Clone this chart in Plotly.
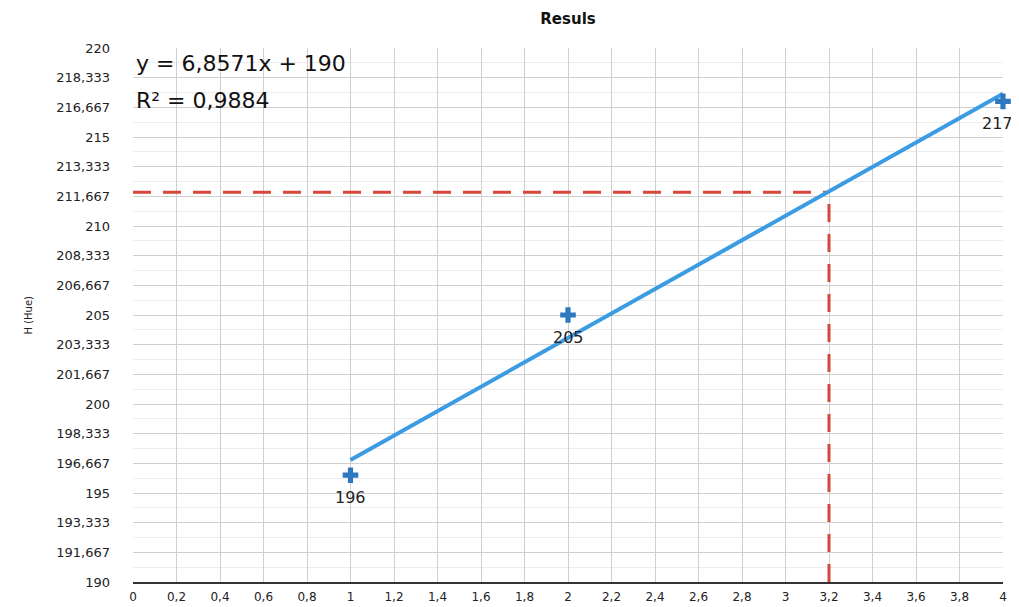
import plotly.graph_objects as go

# Data
x_vals = [1, 2, 4]
hue_vals = [196, 205, 217]
point_labels = ["196", "205", "217"]
trend_x = [1, 4]
trend_y = [196.857, 217.428]
target_x = 3.2
target_hue = 211.9
y_tickvals = [190, 191.667, 193.333, 195, 196.667, 198.333, 200, 201.667, 203.333,
              205, 206.667, 208.333, 210, 211.667, 213.333, 215, 216.667, 218.333, 220]
y_ticktext = ["190", "191,667", "193,333", "195", "196,667", "198,333", "200", "201,667",
              "203,333", "205", "206,667", "208,333", "210", "211,667", "213,333", "215",
              "216,667", "218,333", "220"]
y_minor_vals = [190.833, 192.5, 194.167, 195.833, 197.5, 199.167, 200.833, 202.5,
                204.167, 205.833, 207.5, 209.167, 210.833, 212.5, 214.167, 215.833,
                217.5, 219.167]
x_tickvals = [0, 0.2, 0.4, 0.6, 0.8, 1, 1.2, 1.4, 1.6, 1.8, 2, 2.2, 2.4, 2.6, 2.8, 3,
              3.2, 3.4, 3.6, 3.8, 4]
x_ticktext = ["0", "0,2", "0,4", "0,6", "0,8", "1", "1,2", "1,4", "1,6", "1,8", "2",
              "2,2", "2,4", "2,6", "2,8", "3", "3,2", "3,4", "3,6", "3,8", "4"]
equation_lines = ["y = 6,8571x + 190", "R² = 0,9884"]
label_xshifts = [0, 0, -6]

FONT = "DejaVu Sans"

fig = go.Figure()

# dashed guide lines
fig.add_trace(go.Scatter(x=[0, target_x], y=[target_hue, target_hue], mode="lines",
                         line=dict(color="#d8473b", width=3, dash="18px,12px"),
                         showlegend=False, hoverinfo="skip"))
fig.add_trace(go.Scatter(x=[target_x, target_x], y=[190, target_hue], mode="lines",
                         line=dict(color="#d8473b", width=3, dash="18px,12px"),
                         showlegend=False, hoverinfo="skip"))

# trend line
fig.add_trace(go.Scatter(x=trend_x, y=trend_y, mode="lines",
                         line=dict(color="#3b9be3", width=4),
                         showlegend=False, hoverinfo="skip"))

# points
fig.add_trace(go.Scatter(x=x_vals, y=hue_vals, mode="markers",
                         marker=dict(symbol="cross", size=13, color="#2f78c0"),
                         cliponaxis=False, showlegend=False))

# point value labels
for xv, yv, lab, xs in zip(x_vals, hue_vals, point_labels, label_xshifts):
    fig.add_annotation(x=xv, y=yv, text=lab, showarrow=False, yshift=-22, xshift=xs,
                       font=dict(family=FONT, size=16, color="#222222"))

fig.add_annotation(x=0, y=0.9719, xref="paper", yref="paper", xanchor="left",
                   yanchor="middle", xshift=1, showarrow=False,
                   text=equation_lines[0],
                   font=dict(family=FONT, size=22, color="#111111"))
fig.add_annotation(x=0, y=0.9026, xref="paper", yref="paper", xanchor="left",
                   yanchor="middle", xshift=1, showarrow=False,
                   text=equation_lines[1],
                   font=dict(family=FONT, size=22, color="#111111"))

# y-axis title
fig.add_annotation(x=0, y=0.5, xref="paper", yref="paper", xshift=-113,
                   showarrow=False, textangle=-90, text="H (Hue)",
                   font=dict(family=FONT, size=10, color="#222222"))

fig.update_layout(
    width=1011, height=599,
    margin=dict(l=125, r=16, t=40, b=25),
    paper_bgcolor="white", plot_bgcolor="white",
    title=dict(text="<b>Resuls</b>", x=0.5, xref="paper", y=0.9816, yanchor="middle",
               font=dict(family=FONT, size=15, color="#111111")),
    font=dict(family=FONT, color="#222222"),
)
fig.update_xaxes(range=[0, 4], tickvals=x_tickvals, ticktext=x_ticktext,
                 tickfont=dict(family=FONT, size=12, color="#222222"),
                 showgrid=True, gridcolor="#cfcfcf", gridwidth=1,
                 showline=True, linecolor="#333333", linewidth=2,
                 zeroline=False, ticks="", ticklabelstandoff=3, automargin=False)
fig.update_yaxes(range=[190, 220], tickvals=y_tickvals, ticktext=y_ticktext,
                 tickfont=dict(family=FONT, size=13, color="#222222"),
                 showgrid=True, gridcolor="#cfcfcf", gridwidth=1,
                 minor=dict(showgrid=True, gridcolor="#ececec", tickvals=y_minor_vals),
                 showline=False, zeroline=False, ticks="", ticklabelstandoff=22,
                 automargin=False)

fig.write_html("out.html")
